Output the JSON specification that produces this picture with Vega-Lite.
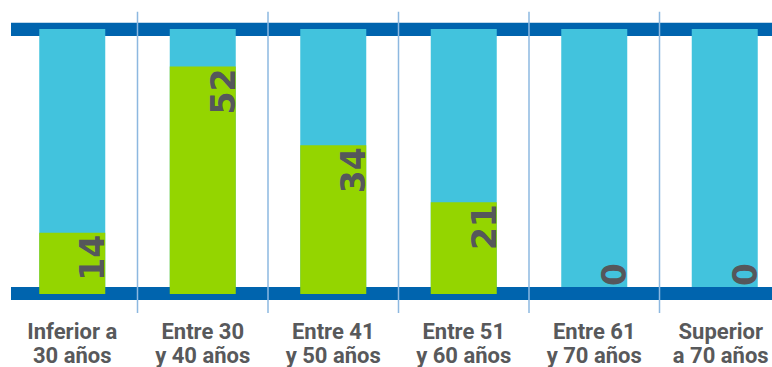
{
  "$schema": "https://vega.github.io/schema/vega-lite/v6.json",
  "autosize": "none",
  "padding": {"left": 11, "top": 0, "right": 0, "bottom": 62},
  "width": 761,
  "height": 305,
  "background": "white",
  "config": {"view": {"stroke": null}},
  "data": {
    "values": [
      {"cat": "Inferior a\n30 años", "value": 14},
      {"cat": "Entre 30\ny 40 años", "value": 52},
      {"cat": "Entre 41\ny 50 años", "value": 34},
      {"cat": "Entre 51\ny 60 años", "value": 21},
      {"cat": "Entre 61\ny 70 años", "value": 0},
      {"cat": "Superior\na 70 años", "value": 0}
    ]
  },
  "layer": [
    {
      "data": {"values": [{}]},
      "mark": {"type": "rect", "color": "#0064AE"},
      "encoding": {
        "y": {"datum": 62, "type": "quantitative", "scale": {"domain": [-2.5, 67.2], "nice": false, "zero": false}, "axis": null},
        "y2": {"datum": 59}
      }
    },
    {
      "data": {"values": [{}]},
      "mark": {"type": "rect", "color": "#0064AE"},
      "encoding": {
        "y": {"datum": 1.6, "type": "quantitative"},
        "y2": {"datum": -1.35}
      }
    },
    {
      "transform": [{"filter": {"field": "cat", "oneOf": ["Entre 30\ny 40 años", "Entre 41\ny 50 años", "Entre 51\ny 60 años", "Entre 61\ny 70 años", "Superior\na 70 años"]}}],
      "mark": {"type": "rule", "color": "#8DB8E0", "strokeWidth": 1.5},
      "encoding": {
        "x": {"field": "cat", "type": "nominal", "bandPosition": 0,
          "scale": {"domain": ["Inferior a\n30 años", "Entre 30\ny 40 años", "Entre 41\ny 50 años", "Entre 51\ny 60 años", "Entre 61\ny 70 años", "Superior\na 70 años"], "range": [-4, 779], "paddingInner": 0, "paddingOuter": 0},
          "axis": {"title": null, "domain": false, "ticks": false, "grid": false, "labelAngle": 0, "labelAlign": "center", "labelBaseline": "top", "labelPadding": 16, "labelFont": "Roboto", "labelFontSize": 22, "labelFontWeight": "bold", "labelColor": "#58595B", "labelLineHeight": 24,
            "labelOffset": {"condition": {"test": "datum.index == 1", "value": -4}, "value": 0},
            "labelExpr": "split(datum.label, '\\n')"}},
        "y": {"datum": 64.5, "type": "quantitative"},
        "y2": {"datum": -4.35}
      }
    },
    {
      "mark": {"type": "bar", "color": "#42C3DD", "width": 66},
      "encoding": {
        "x": {"field": "cat", "type": "nominal"},
        "y": {"datum": 60.6, "type": "quantitative"},
        "y2": {"datum": 1.6}
      }
    },
    {
      "mark": {"type": "bar", "color": "#94D500", "width": 66},
      "encoding": {
        "x": {"field": "cat", "type": "nominal"},
        "y": {"field": "value", "type": "quantitative"},
        "y2": {"datum": 0}
      }
    },
    {
      "transform": [{"filter": "datum.value > 0"}],
      "mark": {"type": "text", "angle": 270, "align": "right", "baseline": "alphabetic", "dx": -2, "dy": 32, "font": "DejaVu Sans", "fontSize": 33, "fontWeight": "bold", "color": "#55575B"},
      "encoding": {
        "x": {"field": "cat", "type": "nominal"},
        "y": {"field": "value", "type": "quantitative"},
        "text": {"field": "value", "type": "quantitative"}
      }
    },
    {
      "transform": [{"filter": "datum.value == 0"}],
      "mark": {"type": "text", "angle": 270, "align": "left", "baseline": "alphabetic", "dx": 8, "dy": 32, "font": "DejaVu Sans", "fontSize": 33, "fontWeight": "bold", "color": "#55575B"},
      "encoding": {
        "x": {"field": "cat", "type": "nominal"},
        "y": {"datum": 0, "type": "quantitative"},
        "text": {"field": "value", "type": "quantitative"}
      }
    }
  ]
}
